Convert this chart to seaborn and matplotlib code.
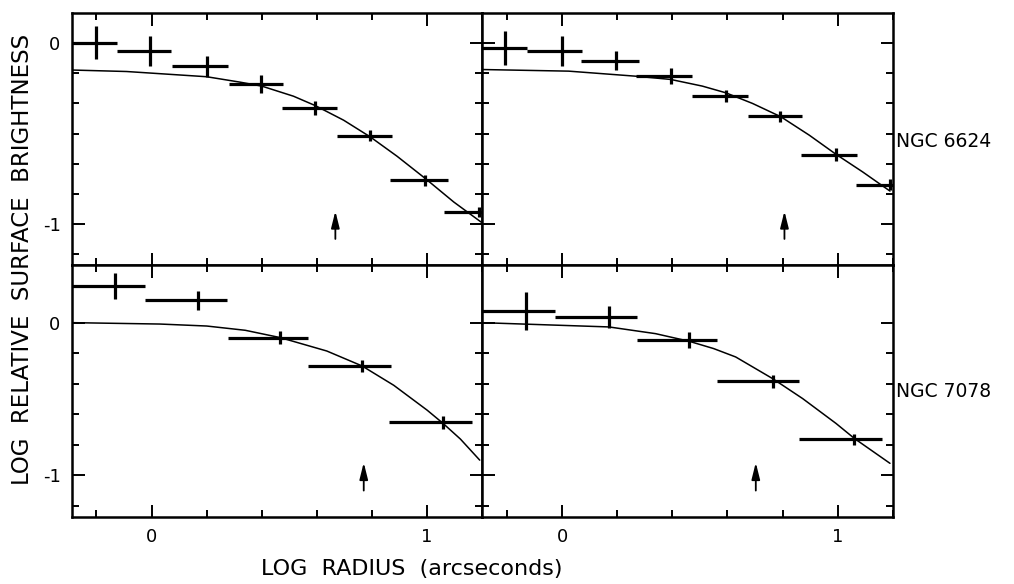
import numpy as np
import pandas as pd
import seaborn as sns
import matplotlib.pyplot as plt

sns.set_style("ticks")
plt.rcParams['font.family'] = ['DejaVu Sans']
plt.rcParams['text.color'] = 'black'
plt.rcParams['axes.edgecolor'] = 'black'
plt.rcParams['xtick.color'] = 'black'
plt.rcParams['ytick.color'] = 'black'

# --- NGC 6624, left column ---
tl_x = [-0.203, -0.004, 0.200, 0.397, 0.594, 0.791, 0.991, 1.188]
tl_lo = [-0.29, -0.125, 0.073, 0.281, 0.475, 0.673, 0.867, 1.060]
tl_hi = [-0.127, 0.070, 0.279, 0.476, 0.673, 0.873, 1.075, 1.25]
tl_y = [0.003, -0.041, -0.126, -0.226, -0.358, -0.513, -0.759, -0.935]
tl_yerr = [0.092, 0.083, 0.058, 0.05, 0.04, 0.03, 0.03, 0.03]
tl_curve_x = [-0.285, -0.091, 0.2, 0.321, 0.4, 0.515, 0.594, 0.697, 0.794, 0.891, 0.994, 1.097, 1.196]
tl_curve_y = [-0.148, -0.156, -0.185, -0.215, -0.237, -0.293, -0.345, -0.426, -0.519, -0.626, -0.75, -0.88, -0.991]

# --- NGC 6624, right column ---
tr_x = [-0.206, -0.002, 0.194, 0.394, 0.594, 0.790, 0.994, 1.190]
tr_lo = [-0.29, -0.127, 0.070, 0.267, 0.473, 0.673, 0.867, 1.067]
tr_hi = [-0.127, 0.073, 0.279, 0.470, 0.676, 0.870, 1.069, 1.25]
tr_y = [-0.024, -0.043, -0.095, -0.182, -0.291, -0.404, -0.617, -0.783]
tr_yerr = [0.094, 0.083, 0.05, 0.045, 0.035, 0.03, 0.035, 0.03]
tr_curve_x = [-0.291, 0.024, 0.267, 0.394, 0.509, 0.594, 0.691, 0.794, 0.897, 0.994, 1.091, 1.19]
tr_curve_y = [-0.145, -0.154, -0.182, -0.2, -0.237, -0.274, -0.333, -0.407, -0.509, -0.615, -0.713, -0.819]

# --- NGC 7078, left column ---
bl_x = [-0.131, 0.170, 0.467, 0.764, 1.058]
bl_lo = [-0.29, -0.024, 0.276, 0.567, 0.863]
bl_hi = [-0.024, 0.273, 0.567, 0.870, 1.164]
bl_y = [0.238, 0.146, -0.098, -0.284, -0.655]
bl_yerr = [0.085, 0.063, 0.044, 0.04, 0.045]
bl_curve_x = [-0.285, 0.03, 0.2, 0.34, 0.467, 0.636, 0.764, 0.879, 1.0, 1.058, 1.121, 1.191]
bl_curve_y = [0.0, -0.009, -0.022, -0.05, -0.098, -0.186, -0.284, -0.411, -0.574, -0.661, -0.764, -0.902]

# --- NGC 7078, right column ---
br_x = [-0.131, 0.170, 0.461, 0.764, 1.061]
br_lo = [-0.293, -0.027, 0.273, 0.564, 0.861]
br_hi = [-0.027, 0.273, 0.564, 0.861, 1.161]
br_y = [0.076, 0.037, -0.116, -0.384, -0.766]
br_yerr = [0.123, 0.07, 0.053, 0.043, 0.036]
br_curve_x = [-0.291, 0.17, 0.339, 0.461, 0.55, 0.63, 0.764, 0.873, 0.994, 1.061, 1.19]
br_curve_y = [0.0, -0.028, -0.072, -0.122, -0.17, -0.225, -0.367, -0.498, -0.661, -0.76, -0.923]

# arrows marking the core radius
arrow_x = [0.667, 0.807, 0.77, 0.703]
arrow_y_top = [-0.915, -0.915, -0.90, -0.90]
arrow_y_base = [-1.10, -1.10, -1.12, -1.12]

cluster_names = ['NGC 6624', 'NGC 7078']

panels = [
    (tl_x, tl_lo, tl_hi, tl_y, tl_yerr, tl_curve_x, tl_curve_y),
    (tr_x, tr_lo, tr_hi, tr_y, tr_yerr, tr_curve_x, tr_curve_y),
    (bl_x, bl_lo, bl_hi, bl_y, bl_yerr, bl_curve_x, bl_curve_y),
    (br_x, br_lo, br_hi, br_y, br_yerr, br_curve_x, br_curve_y),
]

fig, axes = plt.subplots(2, 2, figsize=(10.14, 5.84), dpi=100, sharex=True)
fig.subplots_adjust(left=0.0707, right=0.8804, top=0.9772, bottom=0.1153,
                    wspace=0, hspace=0)

for i, ax in enumerate(axes.flat):
    x, lo, hi, y, yerr, cx, cy = panels[i]
    x = np.array(x)
    xerr = [x - np.array(lo), np.array(hi) - x]

    curve = pd.DataFrame({'logr': cx, 'logsb': cy})
    sns.lineplot(data=curve, x='logr', y='logsb', ax=ax, color='black',
                 lw=1.1, sort=False, estimator=None)
    ax.errorbar(x, y, xerr=xerr, yerr=yerr, fmt='none', ecolor='black',
                elinewidth=2.3, capsize=0)

    ax.annotate('', xy=(arrow_x[i], arrow_y_top[i]),
                xytext=(arrow_x[i], arrow_y_base[i]),
                arrowprops=dict(arrowstyle='-|>,head_length=1.0,head_width=0.25',
                                color='black', lw=1.3))

    ax.set_xlim(-0.29, 1.2)
    row = i // 2
    if row == 0:
        ax.set_ylim(-1.229, 0.1667)
        ax.set_yticks([0, -1])
        ax.set_yticks([-k / 6 for k in range(1, 8) if k != 6], minor=True)
    else:
        ax.set_ylim(-1.273, 0.3785)
        ax.set_yticks([0, -1])
        ax.set_yticks([-0.2, -0.4, -0.6, -0.8, -1.2], minor=True)

    ax.set_xticks([0, 1])
    ax.set_xticks([-0.2, 0.2, 0.4, 0.6, 0.8, 1.2], minor=True)

    ax.tick_params(which='both', direction='in', top=True, right=True,
                   width=1.4, labelsize=13, pad=8)
    ax.tick_params(which='major', length=9)
    ax.tick_params(which='minor', length=5)
    for s in ax.spines.values():
        s.set_linewidth(1.8)
        s.set_visible(True)

    if i % 2 == 0:
        ax.set_yticklabels(['0', '-1'])
    else:
        ax.set_yticklabels([])
    if row == 1:
        ax.set_xticklabels(['0', '1'])
    ax.set_xlabel('')
    ax.set_ylabel('')

fig.text(0.884, 0.758, cluster_names[0], fontsize=13.5, va='center', ha='left')
fig.text(0.884, 0.329, cluster_names[1], fontsize=13.5, va='center', ha='left')
fig.text(0.022, 0.555, 'LOG  RELATIVE  SURFACE  BRIGHTNESS', rotation=90,
         fontsize=16.5, va='center', ha='center')
fig.text(0.406, 0.025, 'LOG  RADIUS  (arcseconds)', fontsize=16,
         va='center', ha='center')

fig.savefig('out.png', dpi=100, facecolor='white')
